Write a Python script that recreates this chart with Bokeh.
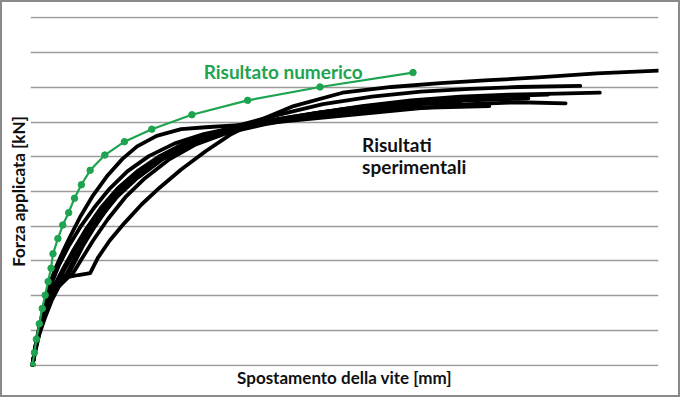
from bokeh.plotting import figure
from bokeh.models import Label, FixedTicker
from bokeh.embed import file_html
from bokeh.resources import INLINE

# Numerical result (displacement [mm], force [kN])
num_x = [0, 0.1, 0.2, 0.35, 0.5, 0.65, 0.8, 0.95, 1.05, 1.3, 1.55, 1.85, 2.15, 2.5, 2.95,
         3.7, 4.7, 6.1, 8.15, 11.0, 14.7, 19.45]
num_y = [0, 0.72, 1.49, 2.38, 3.26, 4.03, 4.81, 5.58, 6.41, 7.29, 8.07, 8.78, 9.61, 10.39,
         11.22, 12.10, 12.87, 13.59, 14.42, 15.25, 16.02, 16.85]

# Experimental results
exp1_x = [0, 0.15, 0.35, 0.6, 0.85, 1.15, 1.55, 1.95, 2.45, 3.1, 3.85, 4.6, 5.35, 6.35, 7.6,
          8.85, 10.35, 12.35, 14.85, 17.35, 19.85, 22.35, 24.85, 27.25]
exp1_y = [0, 1.10, 2.21, 3.43, 4.53, 5.52, 6.52, 7.46, 8.56, 9.78, 10.94, 11.88, 12.60, 13.20,
          13.59, 13.70, 13.81, 13.98, 14.25, 14.53, 14.81, 15.03, 15.14, 15.08]

exp2_x = [0, 0.15, 0.35, 0.6, 0.95, 1.35, 1.85, 2.35, 2.95, 3.35, 3.95, 4.7, 5.6, 6.5, 7.6,
          8.85, 10.1, 11.35, 13.35, 15.85, 18.35, 20.85, 23.35, 25.85, 28.85, 32.0]
exp2_y = [0, 0.99, 1.93, 2.87, 3.76, 4.53, 5.08, 5.19, 5.30, 6.19, 7.18, 8.18, 9.28, 10.22,
          11.27, 12.32, 13.26, 13.98, 14.92, 15.69, 16.02, 16.24, 16.41, 16.57, 16.80, 16.96]

exp3_x = [0, 0.2, 0.45, 0.75, 1.1, 1.45, 1.85, 2.1, 2.6, 3.2, 3.95, 4.85, 5.85, 7.1, 8.6,
          10.35, 12.35, 14.85, 17.35, 19.85, 22.35, 24.85, 28.0]
exp3_y = [0, 1.10, 2.32, 3.43, 4.42, 4.97, 5.25, 5.80, 6.91, 8.01, 9.23, 10.39, 11.33, 12.27,
          13.09, 13.76, 14.36, 15.03, 15.47, 15.75, 15.91, 16.02, 16.08]

exp4_x = [0, 0.15, 0.4, 0.7, 1.05, 1.45, 1.75, 2.25, 2.85, 3.55, 4.35, 5.35, 6.6, 8.1, 9.85,
          11.85, 14.35, 16.85, 19.35, 21.85, 24.35, 26.85, 29.0]
exp4_y = [0, 0.99, 2.10, 3.20, 4.20, 4.86, 5.25, 6.35, 7.46, 8.62, 9.72, 10.77, 11.82, 12.71,
          13.43, 13.92, 14.48, 14.92, 15.25, 15.47, 15.58, 15.64, 15.69]

exp5_x = [0, 0.2, 0.45, 0.75, 1.1, 1.55, 2.1, 2.75, 3.5, 4.35, 5.35, 6.5, 7.85, 9.45, 11.35,
          13.35, 15.85, 18.35, 20.85, 23.35, 26.35]
exp5_y = [0, 1.22, 2.43, 3.54, 4.53, 5.52, 6.63, 7.85, 9.06, 10.17, 11.16, 12.04, 12.82, 13.43,
          13.92, 14.31, 14.75, 15.08, 15.30, 15.47, 15.58]

exp6_x = [0, 0.15, 0.35, 0.65, 1.0, 1.35, 1.65, 2.05, 2.5, 3.1, 3.85, 4.75, 5.75, 6.95, 8.35,
          9.95, 11.85, 14.35, 16.85, 19.35, 22.35, 25.35]
exp6_y = [0, 0.83, 1.77, 2.76, 3.76, 4.53, 4.97, 5.25, 6.08, 7.18, 8.40, 9.67, 10.77, 11.82,
          12.71, 13.37, 13.87, 14.36, 14.75, 15.03, 15.25, 15.36]

exp7_x = [0, 0.2, 0.5, 0.85, 1.25, 1.7, 2.25, 2.95, 3.75, 4.65, 5.7, 6.95, 8.35, 10.1, 12.1,
          14.35, 16.85, 19.35, 21.35, 23.35]
exp7_y = [0, 1.33, 2.54, 3.65, 4.64, 5.64, 6.74, 7.96, 9.17, 10.28, 11.27, 12.15, 12.87, 13.48,
          13.98, 14.36, 14.64, 14.81, 14.86, 14.92]

exp8_x = [0, 0.15, 0.4, 0.65, 1.0, 1.35, 1.85, 2.45, 3.15, 3.95, 4.85, 5.95, 7.25, 8.75, 10.35,
          12.35, 14.85, 17.35, 19.85, 21.85]
exp8_y = [0, 1.10, 2.32, 3.54, 4.75, 5.75, 6.85, 7.96, 9.06, 10.17, 11.16, 12.04, 12.76, 13.31,
          13.70, 14.14, 14.59, 14.86, 15.03, 15.14]

exp_series = [(exp1_x, exp1_y), (exp2_x, exp2_y), (exp3_x, exp3_y), (exp4_x, exp4_y),
              (exp5_x, exp5_y), (exp6_x, exp6_y), (exp7_x, exp7_y), (exp8_x, exp8_y)]

grid_ticks = [0, 2, 4, 6, 8, 10, 12, 14, 16, 18, 20]

x_title = "Spostamento della vite [mm]"
y_title = "Forza applicata [kN]"
num_label = "Risultato numerico"
exp_label_1 = "Risultati"
exp_label_2 = "sperimentali"

GREEN = "#1ea450"
FONT = "Lato"

p = figure(width=680, height=397, output_backend="svg", toolbar_location=None,
           x_range=(-0.1, 32), y_range=(-0.08, 20.08),
           min_border_left=28, min_border_right=24, min_border_top=14, min_border_bottom=33)
p.styles = {"border": "2px solid #8a8a8a"}
p.outline_line_color = None
p.background_fill_color = "white"
p.border_fill_color = "white"

p.xaxis.ticker = FixedTicker(ticks=[])
p.yaxis.ticker = FixedTicker(ticks=[])
p.xgrid.grid_line_color = None
p.ygrid.ticker = FixedTicker(ticks=grid_ticks)
p.ygrid.grid_line_color = "#9a9a9a"
p.ygrid.grid_line_width = 1.5

for ax in (p.xaxis[0], p.yaxis[0]):
    ax.axis_line_color = None
    ax.major_tick_line_color = None
    ax.minor_tick_line_color = None
    ax.axis_label_text_font = FONT
    ax.axis_label_text_font_style = "bold"
    ax.axis_label_text_color = "#111111"

p.xaxis.axis_label = x_title
p.yaxis.axis_label = y_title
p.xaxis.axis_label_text_font_size = "17px"
p.yaxis.axis_label_text_font_size = "17px"
p.xaxis.axis_label_standoff = 0
p.yaxis.axis_label_standoff = 2

for xs, ys in exp_series:
    p.line(xs, ys, line_color="black", line_width=3.8, line_join="round", line_cap="round")

p.line(num_x, num_y, line_color=GREEN, line_width=2.2)
p.scatter(num_x, num_y, size=6.5, fill_color=GREEN, line_color=GREEN)

p.add_layout(Label(x=8.75, y=16.9, text=num_label, text_color=GREEN, text_font=FONT,
                   text_font_style="bold", text_font_size="19px", text_baseline="alphabetic"))
p.add_layout(Label(x=16.85, y=12.7, text=exp_label_1, text_color="#111111",
                   text_font=FONT, text_font_style="bold", text_font_size="19px",
                   text_baseline="alphabetic"))
p.add_layout(Label(x=16.85, y=11.45, text=exp_label_2, text_color="#111111",
                   text_font=FONT, text_font_style="bold", text_font_size="19px",
                   text_baseline="alphabetic"))

open("out.html", "w").write(file_html(p, INLINE))
